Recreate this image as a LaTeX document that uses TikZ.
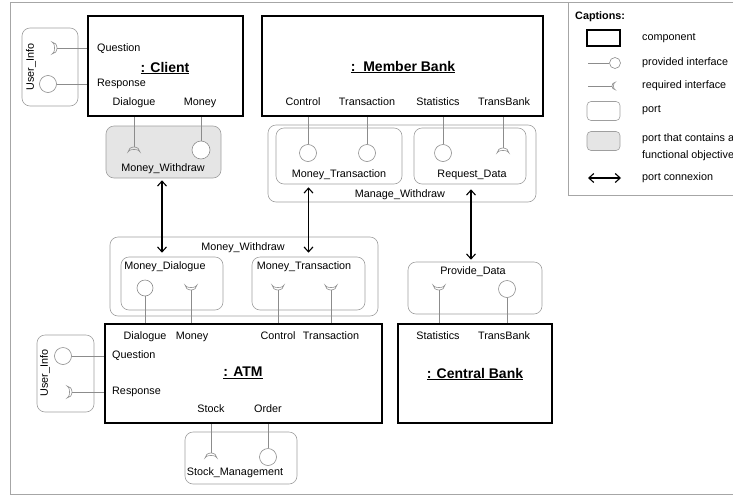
\documentclass[tikz,border=0pt]{standalone}
\usepackage{fontspec}
\setmainfont{Liberation Sans}
\usetikzlibrary{arrows.meta}

\newcommand{\lblfont}{\fontsize{10.8}{12}\selectfont}
\newcommand{\ttlfont}{\fontsize{14}{16}\selectfont\bfseries}

\tikzset{
  comp/.style={draw=black, line width=1.3pt, inner sep=0pt},
  port/.style={draw=gray!75, line width=0.6pt, rounded corners=8pt, inner sep=0pt},
  fport/.style={port, fill=gray!20},
  prov/.style={circle, draw=gray!90, line width=0.6pt, fill=white, minimum size=17pt, inner sep=0pt},
  iface/.style={draw=gray!90, line width=0.6pt},
  lbl/.style={font=\lblfont, inner sep=0pt, text height=7.8pt, text depth=2.3pt},
  ttl/.style={font=\ttlfont, inner sep=0pt},
  conn/.style={{Straight Barb[length=5pt,width=9pt]}-{Straight Barb[length=5pt,width=9pt]}, line width=1.1pt},
  sock/.pic={\draw[iface] (-6,5) arc[start angle=180,end angle=360,x radius=6,y radius=5]
      arc[start angle=0,end angle=-180,x radius=6,y radius=2.5] -- cycle;}
}

\begin{document}
\begin{tikzpicture}[x=1pt,y=1pt]
        \useasboundingbox (0,0) rectangle (733,-498);
        %frame drawing
        \draw[gray!70, line width=0.8pt] (10,-2) rectangle (745,-494);
        \draw[gray!70, line width=0.8pt] (568,-2) rectangle (745,-195);
        % components
        \node[comp, minimum width=155, minimum height=100] (client) at (165.5,-66) {};
        \node[comp, minimum width=281, minimum height=100] (mbank) at (402.5,-66) {};
        \node[comp, minimum width=277, minimum height=99] (atm) at (243.5,-373.5) {};
        \node[comp, minimum width=154, minimum height=99] (cbank) at (475,-373.5) {};
        \node[ttl] (clientname) at (165,-68) {\underline{: Client}};
        \node[ttl] (mbankname) at (403,-67) {\underline{:~~Member Bank}};
        \node[ttl] (atmname) at (243,-373) {\underline{: ATM}};
        \node[ttl] (cbankname) at (475,-374) {\underline{: Central Bank}};
        % client ports
        \node[port, minimum width=56, minimum height=78] (cuinfo) at (50,-67) {};
        \node[lbl, rotate=90] (cuinfolbl) at (31,-67) {User\_Info};
        \node[fport, minimum width=115, minimum height=52] (cmw) at (163.5,-152) {};
        \node[lbl] (cmwlbl) at (163,-169) {Money\_Withdraw};
        % member bank ports
        \node[port, minimum width=268, minimum height=77] (mwd) at (402,-163.5) {};
        \node[lbl] (mwdlbl) at (400,-195) {Manage\_Withdraw};
        \node[port, minimum width=126, minimum height=56] (mbtrans) at (339,-156) {};
        \node[lbl] (mbtranslbl) at (339,-175) {Money\_Transaction};
        \node[port, minimum width=112, minimum height=56] (reqdata) at (470,-156) {};
        \node[lbl] (reqdatalbl) at (472,-175) {Request\_Data};
        % atm ports
        \node[port, minimum width=268, minimum height=79] (amw) at (244,-276.5) {};
        \node[lbl] (amwlbl) at (243,-248) {Money\_Withdraw};
        \node[port, minimum width=102, minimum height=53] (mdial) at (172,-283.5) {};
        \node[lbl] (mdiallbl) at (165,-267) {Money\_Dialogue};
        \node[port, minimum width=113, minimum height=53] (atrans) at (308.5,-283.5) {};
        \node[lbl] (atranslbl) at (304,-267) {Money\_Transaction};
        \node[port, minimum width=57, minimum height=77] (auinfo) at (65.5,-373.5) {};
        \node[lbl, rotate=90] (auinfolbl) at (45,-373) {User\_Info};
        \node[port, minimum width=112, minimum height=52] (stockm) at (241,-458) {};
        \node[lbl] (stockmlbl) at (235,-473) {Stock\_Management};
        % central bank port
        \node[port, minimum width=134, minimum height=52] (provdata) at (475,-288) {};
        \node[lbl] (provdatalbl) at (473,-272) {Provide\_Data};

        % client interfaces
        \node[lbl, anchor=west] (cquestlbl) at (97,-49) {Question};
        \node[lbl, anchor=west] (cresplbl) at (97,-84) {Response};
        \node[lbl] (cdiallbl) at (134,-103) {Dialogue};
        \node[lbl] (cmoneylbl) at (200,-103) {Money};
        \coordinate (cquest) at (57,-48);
        \pic[rotate=90] at (cquest) {sock};
        \draw[iface] (cquest) -- (cquest -| client.west);
        \node[prov] (cresp) at (48,-84) {};
        \draw[iface] (cresp.east) -- (cresp -| client.west);
        \coordinate (cdial) at (134,-147);
        \pic[rotate=180] at (cdial) {sock};
        \draw[iface] (cdial) -- (cdial |- client.south);
        \node[prov, minimum size=18pt] (cmoney) at (201,-150) {};
        \draw[iface] (cmoney.north) -- (cmoney |- client.south);

        % member bank interfaces
        \node[lbl] (mbctrllbl) at (303,-103) {Control};
        \node[lbl] (mbtrlbl) at (367,-103) {Transaction};
        \node[lbl] (mbstatlbl) at (438,-103) {Statistics};
        \node[lbl] (mbtbanklbl) at (504,-103) {TransBank};
        \node[prov] (mbctrl) at (308,-153) {};
        \draw[iface] (mbctrl.north) -- (mbctrl |- mbank.south);
        \node[prov] (mbtr) at (367,-153) {};
        \draw[iface] (mbtr.north) -- (mbtr |- mbank.south);
        \node[prov] (mbstat) at (443,-153) {};
        \draw[iface] (mbstat.north) -- (mbstat |- mbank.south);
        \coordinate (mbtbank) at (503,-148);
        \pic[rotate=180] at (mbtbank) {sock};
        \draw[iface] (mbtbank) -- (mbtbank |- mbank.south);

        % atm interfaces
        \node[lbl] (adiallbl) at (145,-337) {Dialogue};
        \node[lbl] (amoneylbl) at (192,-337) {Money};
        \node[lbl] (actrllbl) at (278,-337) {Control};
        \node[lbl] (atrlbl) at (331,-337) {Transaction};
        \node[lbl, anchor=west] (aquestlbl) at (112,-356) {Question};
        \node[lbl, anchor=west] (aresplbl) at (112,-392) {Response};
        \node[lbl] (astocklbl) at (211,-410) {Stock};
        \node[lbl] (aorderlbl) at (268,-410) {Order};
        \node[prov, minimum size=16pt] (adial) at (145,-288) {};
        \draw[iface] (adial.south) -- (adial |- atm.north);
        \coordinate (amoney) at (191,-290);
        \pic at (amoney) {sock};
        \draw[iface] (amoney) -- (amoney |- atm.north);
        \coordinate (actrl) at (278,-290);
        \pic at (actrl) {sock};
        \draw[iface] (actrl) -- (actrl |- atm.north);
        \coordinate (atr) at (331,-290);
        \pic at (atr) {sock};
        \draw[iface] (atr) -- (atr |- atm.north);
        \node[prov] (aquest) at (63,-356) {};
        \draw[iface] (aquest.east) -- (aquest -| atm.west);
        \coordinate (aresp) at (72,-392);
        \pic[rotate=90] at (aresp) {sock};
        \draw[iface] (aresp) -- (aresp -| atm.west);
        \coordinate (astock) at (211,-453);
        \pic[rotate=180] at (astock) {sock};
        \draw[iface] (astock) -- (astock |- atm.south);
        \node[prov] (aorder) at (268,-457) {};
        \draw[iface] (aorder.north) -- (aorder |- atm.south);

        % central bank interfaces
        \node[lbl] (cbstatlbl) at (438,-337) {Statistics};
        \node[lbl] (cbtbanklbl) at (504,-337) {TransBank};
        \coordinate (cbstat) at (439,-290);
        \pic at (cbstat) {sock};
        \draw[iface] (cbstat) -- (cbstat |- cbank.north);
        \node[prov] (cbtbank) at (507,-289) {};
        \draw[iface] (cbtbank.south) -- (cbtbank |- cbank.north);

        % port connexions
        \draw[conn, shorten <=2pt, shorten >=4pt] ([xshift=-1.5pt]cmw.south) -- ([xshift=-1.5pt]cmw.south |- mdial.north);
        \draw[conn, shorten <=3pt, shorten >=4pt] (atrans.north |- mbtrans.south) -- (atrans.north);
        \draw[conn, shorten <=5pt, shorten >=2pt] ([xshift=1pt]reqdata.south) -- ([xshift=1pt]reqdata.south |- provdata.north);

        % captions
        \node[lbl, font=\lblfont\bfseries, anchor=west] (capt) at (575,-17) {Captions:};
        \node[comp, line width=1.1pt, minimum width=33, minimum height=16] (lgcomp) at (603.5,-38) {};
        \node[lbl, anchor=west] (lgcomplbl) at (642,-38) {component};
        \node[prov, minimum size=11pt] (lgprov) at (615,-63) {};
        \coordinate (lgprovend) at (588,-63);
        \draw[iface] (lgprovend) -- (lgprov.west);
        \node[lbl, anchor=west] (lgprovlbl) at (642,-63) {provided interface};
        \coordinate (lgreq) at (612,-86);
        \coordinate (lgreqend) at (588,-86);
        \pic[rotate=-90, scale=0.6] at (lgreq) {sock};
        \draw[iface] (lgreqend) -- (lgreq);
        \node[lbl, anchor=west] (lgreqlbl) at (642,-86) {required interface};
        \node[port, rounded corners=4pt, minimum width=33, minimum height=19] (lgport) at (603.5,-111) {};
        \node[lbl, anchor=west] (lgportlbl) at (642,-110) {port};
        \node[fport, rounded corners=4pt, minimum width=33, minimum height=19] (lgfport) at (603.5,-141) {};
        \node[lbl, anchor=west] (lgfportlbla) at (642,-139) {port that contains a};
        \node[lbl, anchor=west] (lgfportlblb) at (642,-156) {functional objective};
        \coordinate (lgconna) at (588,-178);
        \coordinate (lgconnb) at (621,-178);
        \draw[conn] (lgconna) -- (lgconnb);
        \node[lbl, anchor=west] (lgconnlbl) at (642,-178) {port connexion};
\end{tikzpicture}
\end{document}
